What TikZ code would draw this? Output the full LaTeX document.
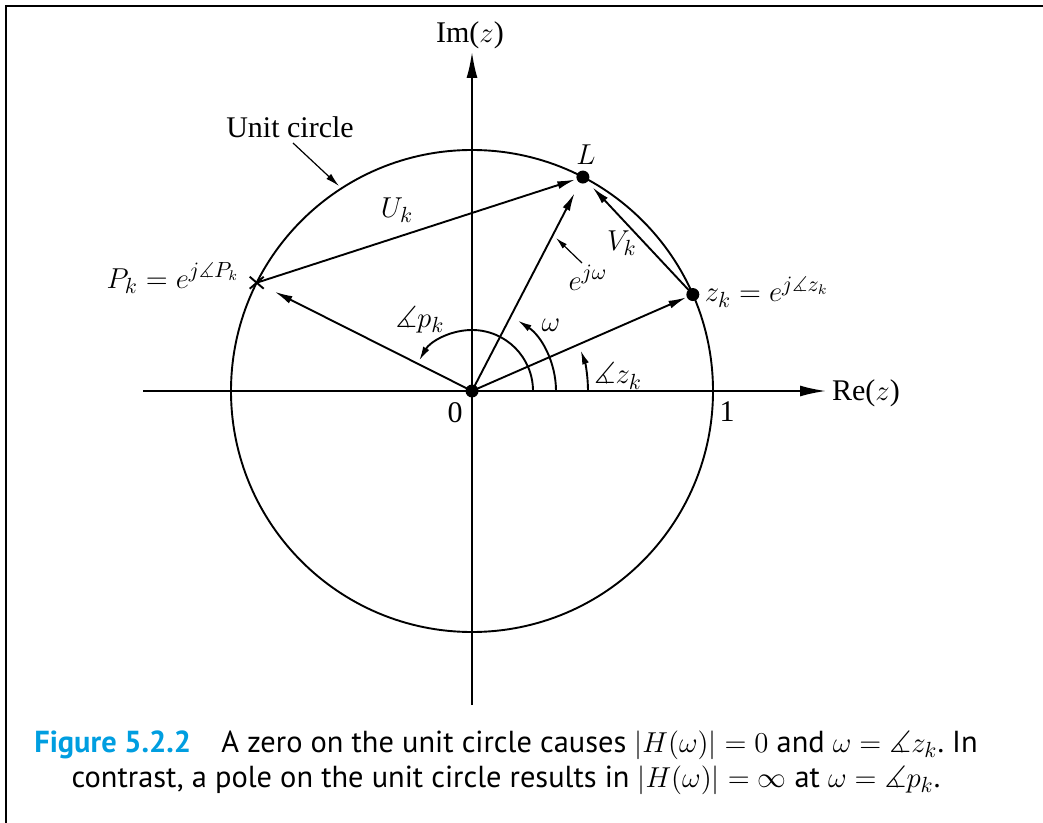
\documentclass[tikz,border=0pt]{standalone}
\usepackage{amssymb}
\usepackage{fontspec}
\setmainfont{Liberation Serif}
\newfontfamily\capfont{PT Sans}
\usetikzlibrary{arrows.meta}
\definecolor{figcyan}{RGB}{0,158,224}
\begin{document}
\begin{tikzpicture}[x=0.5pt,y=0.5pt,line width=0.95pt,
  vec/.style={-{Latex[length=9pt,width=4pt]}},
  arcvec/.style={-{Latex[length=7pt,width=3.5pt]}},
  axis/.style={-{Latex[length=13pt,width=5.5pt]}},
  lbl/.style={font=\fontsize{15}{18}\selectfont, inner sep=0pt},
  captext/.style={font=\capfont\fontsize{15.2}{17}\selectfont, inner sep=0pt},
  dot/.style={circle,fill,inner sep=0pt,minimum size=6.5pt}]
\useasboundingbox (0,0) rectangle (1043,-823);
% frame (top and left)
\draw[line width=1.3pt] (6,-823) -- (6,-6) -- (1043,-6);
% key points
\coordinate (O) at (472,-391);
\path (O) ++(62.6:241) coordinate (L);
\path (O) ++(23.6:241) coordinate (Z);
\path (O) ++(153.3:241) coordinate (P);
% axes
\coordinate (xl) at (143,-391);
\coordinate (xr) at (826,-391);
\coordinate (yb) at (472,-705);
\coordinate (yt) at (472,-52);
\draw[axis] (xl) -- (xr);
\draw[axis] (yb) -- (yt);
\node[lbl] (re) at (866,-393) {Re($z$)};
\node[lbl] (im) at (470,-35) {Im($z$)};
% unit circle
\draw (O) circle[radius=241];
% vectors
\draw[vec, shorten >=9pt] (O) -- (L);
\draw[vec, shorten >=4pt] (P) -- (L);
\draw[vec, shorten >=7pt] (Z) -- (L);
\draw[vec, shorten >=3.5pt] (O) -- (Z);
\draw[vec, shorten >=10pt] (O) -- (P);
% angle arcs
\draw[arcvec] (O) ++(61,0) arc[start angle=0,end angle=150,radius=61];
\draw[arcvec] (O) ++(84,0) arc[start angle=0,end angle=57,radius=84];
\draw[arcvec] (O) ++(116,0) arc[start angle=0,end angle=20.5,radius=116];
% dots and cross
\node[dot] (Od) at (O) {};
\node[dot] (Ld) at (L) {};
\node[dot] (Zd) at (Z) {};
\draw (P) ++(-7,-6) -- ++(14,12);
\draw (P) ++(-7,6) -- ++(14,-12);
% labels
\node[lbl] (Llbl) at (586,-155) {$L$};
\node[lbl] (Ulbl) at (397,-210) {$U_k$};
\node[lbl] (Vlbl) at (622,-243) {$V_k$};
\node[lbl] (ejw) at (588,-278) {$e^{j\omega}$};
\coordinate (ea1) at (582,-263);
\coordinate (ea2) at (556,-238);
\draw[-{Latex[length=6pt,width=3pt]}, line width=0.6pt] (ea1) -- (ea2);
\node[lbl] (Plbl) at (173,-278) {$P_k = e^{j\measuredangle P_k}$};
\node[lbl, anchor=west] (Zlbl) at (704,-292) {$z_k = e^{j\measuredangle z_k}$};
\node[lbl] (pk) at (420,-320) {$\measuredangle p_k$};
\node[lbl] (om) at (551,-325) {$\omega$};
\node[lbl] (zk) at (618,-376) {$\measuredangle z_k$};
\node[lbl] (zero) at (455,-413) {0};
\node[lbl] (one) at (727,-412) {1};
\node[lbl] (uc) at (290,-127) {Unit circle};
\coordinate (uc1) at (293,-143);
\coordinate (uc2) at (339,-186);
\draw[-{Latex[length=7pt,width=3.5pt]}, line width=0.6pt] (uc1) -- (uc2);
% caption
\node[captext] (cap1) at (506,-745) {{\color{figcyan}\bfseries Figure 5.2.2}\quad A zero on the unit circle causes $|H(\omega)| = 0$ and $\omega = \measuredangle z_k$.\ In};
\node[captext] (cap2) at (506,-780) {contrast, a pole on the unit circle results in $|H(\omega)| = \infty$ at $\omega = \measuredangle p_k$.};
\end{tikzpicture}
\end{document}
